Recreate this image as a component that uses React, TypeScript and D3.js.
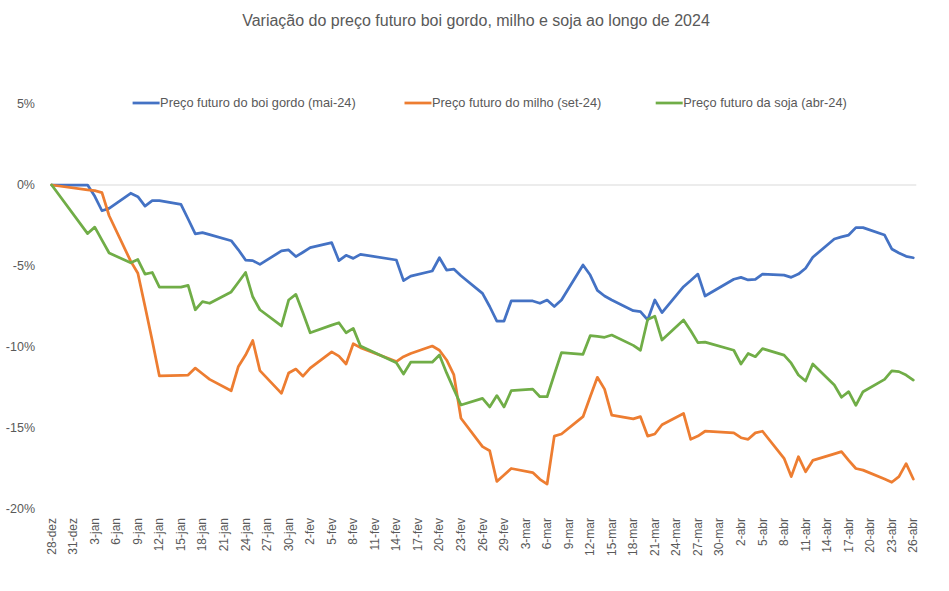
import React from "react";
import * as d3 from "d3";

const title = "Variação do preço futuro boi gordo, milho e soja ao longo de 2024";

const dates = [
  "2023-12-28",
  "2024-01-02", "2024-01-03", "2024-01-04", "2024-01-05",
  "2024-01-08", "2024-01-09", "2024-01-10", "2024-01-11", "2024-01-12",
  "2024-01-15", "2024-01-16", "2024-01-17", "2024-01-18", "2024-01-19",
  "2024-01-22", "2024-01-23", "2024-01-24", "2024-01-25", "2024-01-26",
  "2024-01-29", "2024-01-30", "2024-01-31", "2024-02-01", "2024-02-02",
  "2024-02-05", "2024-02-06", "2024-02-07", "2024-02-08", "2024-02-09",
  "2024-02-14", "2024-02-15", "2024-02-16",
  "2024-02-19", "2024-02-20", "2024-02-21", "2024-02-22", "2024-02-23",
  "2024-02-26", "2024-02-27", "2024-02-28", "2024-02-29", "2024-03-01",
  "2024-03-04", "2024-03-05", "2024-03-06", "2024-03-07", "2024-03-08",
  "2024-03-11", "2024-03-12", "2024-03-13", "2024-03-14", "2024-03-15",
  "2024-03-18", "2024-03-19", "2024-03-20", "2024-03-21", "2024-03-22",
  "2024-03-25", "2024-03-26", "2024-03-27", "2024-03-28",
  "2024-04-01", "2024-04-02", "2024-04-03", "2024-04-04", "2024-04-05",
  "2024-04-08", "2024-04-09", "2024-04-10", "2024-04-11", "2024-04-12",
  "2024-04-15", "2024-04-16", "2024-04-17", "2024-04-18", "2024-04-19",
  "2024-04-22", "2024-04-23", "2024-04-24", "2024-04-25", "2024-04-26",
];

const boiGordo = [
  0,
  0, -0.7, -1.59, -1.44,
  -0.51, -0.72, -1.3, -0.97, -0.97,
  -1.19, -2.1, -3.02, -2.94, -3.06,
  -3.44, -4.0, -4.63, -4.67, -4.9,
  -4.07, -4.01, -4.42, -4.15, -3.87,
  -3.56, -4.67, -4.34, -4.53, -4.28,
  -4.63, -5.9, -5.62,
  -5.31, -4.49, -5.25, -5.19, -5.6,
  -6.69, -7.5, -8.4, -8.4, -7.16,
  -7.16, -7.3, -7.1, -7.5, -7.1,
  -4.94, -5.56, -6.5, -6.85, -7.1,
  -7.76, -7.82, -8.33, -7.1, -7.88,
  -6.28, -5.9, -5.5, -6.85,
  -5.82, -5.7, -5.86, -5.82, -5.5,
  -5.56, -5.7, -5.5, -5.14, -4.46,
  -3.33, -3.2, -3.09, -2.63, -2.63,
  -3.09, -3.95, -4.2, -4.4, -4.49,
];

const milho = [
  0,
  -0.3, -0.35, -0.47, -1.9,
  -4.7, -5.45, -7.5, -9.6, -11.79,
  -11.75, -11.73, -11.3, -11.65, -12.0,
  -12.7, -11.2, -10.5, -9.6, -11.46,
  -12.86, -11.6, -11.36, -11.8, -11.3,
  -10.3, -10.56, -11.05, -9.8, -10.04,
  -10.9, -10.6, -10.4,
  -9.94, -10.2, -10.8, -11.7, -14.4,
  -16.15, -16.4, -18.3, -17.9, -17.5,
  -17.75, -18.17, -18.46, -15.5, -15.37,
  -14.3, -13.07, -11.87, -12.6, -14.2,
  -14.44, -14.3, -15.5, -15.37, -14.8,
  -14.1, -15.7, -15.5, -15.2,
  -15.3, -15.6, -15.7, -15.3, -15.2,
  -16.87, -18.0, -16.77, -17.7, -17.0,
  -16.6, -16.46, -17.0, -17.5, -17.6,
  -18.15, -18.35, -18.0, -17.2, -18.15,
];

const soja = [
  0,
  -3.0, -2.6, -3.4, -4.2,
  -4.8, -4.6, -5.5, -5.4, -6.3,
  -6.3, -6.2, -7.7, -7.2, -7.3,
  -6.6, -6.0, -5.4, -6.9, -7.7,
  -8.7, -7.1, -6.75, -7.9, -9.12,
  -8.65, -8.5, -9.12, -8.85, -9.94,
  -10.97, -11.67, -10.94,
  -10.94, -10.49, -11.6, -12.6, -13.58,
  -13.17, -13.7, -13.0, -13.7, -12.7,
  -12.6, -13.07, -13.07, -11.7, -10.35,
  -10.45, -9.3, -9.35, -9.4, -9.26,
  -9.9, -10.2, -8.3, -8.1, -9.57,
  -8.33, -9.0, -9.73, -9.7,
  -10.2, -11.05, -10.4, -10.6, -10.1,
  -10.5, -11.0, -11.73, -12.1, -11.05,
  -12.35, -13.1, -12.76, -13.6, -12.76,
  -12.0, -11.48, -11.52, -11.73, -12.04,
];

const seriesNames = [
  "Preço futuro do boi gordo (mai-24)",
  "Preço futuro do milho (set-24)",
  "Preço futuro da soja (abr-24)",
];
const seriesColors = ["#4472C4", "#ED7D31", "#70AD47"];
const yTicks = [5, 0, -5, -10, -15, -20];
const monthAbbr = ["jan", "fev", "mar", "abr", "mai", "jun", "jul", "ago", "set", "out", "nov", "dez"];
const xStart = "2023-12-28";
const xEnd = "2024-04-26";

const W = 949;
const H = 591;
const FONT = "'Liberation Sans', Arial, sans-serif";
const TEXT = "#595959";

export default function App() {
  const parse = d3.timeParse("%Y-%m-%d");
  const t0 = parse(xStart)!;
  const t1 = parse(xEnd)!;
  const x = d3.scaleTime().domain([t0, t1]).range([51.7, 913.3]);
  const y = d3.scaleLinear().domain([-20, 5]).range([509, 104]);
  const parsed = dates.map((s) => parse(s)!);
  const allSeries = [boiGordo, milho, soja];
  const line = d3
    .line<number>()
    .x((_, i) => x(parsed[i]))
    .y((v) => y(v));
  const tickDates = d3.timeDay.range(t0, d3.timeDay.offset(t1, 1), 3);

  const legendX = [132.6, 404.5, 655.7];

  return (
    <svg
      width={W}
      height={H}
      style={{ position: "absolute", left: 0, top: 0, background: "#fff" }}
      fontFamily={FONT}
    >
      <rect width={W} height={H} fill="#fff" />
      <text x={476} y={26} textAnchor="middle" fontSize={16} fill={TEXT}>
        {title}
      </text>
      {/* zero line */}
      <line x1={x(t0)} x2={x(t1) + 3} y1={y(0)} y2={y(0)} stroke="#D9D9D9" strokeWidth={1} />
      {/* y ticks */}
      {yTicks.map((v) => (
        <text key={v} x={35} y={y(v)} dy="0.35em" textAnchor="end" fontSize={12.5} fill={TEXT}>
          {`${v}%`}
        </text>
      ))}
      {/* x ticks */}
      {tickDates.map((d, i) => {
        const px = x(d);
        const label = `${d.getDate()}-${monthAbbr[d.getMonth()]}`;
        return (
          <text
            key={i}
            transform={`translate(${px + 4},518) rotate(-90)`}
            textAnchor="end"
            fontSize={12}
            fill={TEXT}
          >
            {label}
          </text>
        );
      })}
      {/* lines */}
      {allSeries.map((vals, i) => (
        <path
          key={i}
          d={line(vals) || ""}
          fill="none"
          stroke={seriesColors[i]}
          strokeWidth={2.75}
          strokeLinejoin="round"
          strokeLinecap="round"
        />
      ))}
      {/* legend */}
      {seriesNames.map((n, i) => (
        <g key={n}>
          <line
            x1={legendX[i]}
            x2={legendX[i] + 27}
            y1={103}
            y2={103}
            stroke={seriesColors[i]}
            strokeWidth={2.75}
          />
          <text x={legendX[i] + 27.5} y={103} dy="0.35em" fontSize={12.8} fill={TEXT}>
            {n}
          </text>
        </g>
      ))}
    </svg>
  );
}
